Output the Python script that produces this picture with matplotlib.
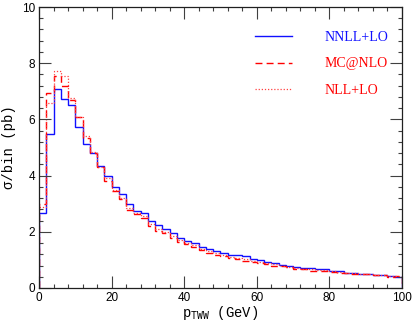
import numpy as np
import matplotlib
matplotlib.use("Agg")
import matplotlib.pyplot as plt
from matplotlib.ticker import MultipleLocator

bin_edges = np.arange(0, 102, 2)

nnll_lo = [2.67, 5.48, 7.07, 6.74, 6.51, 5.72, 5.11, 4.80, 4.35, 4.00,
           3.58, 3.33, 2.98, 2.74, 2.66, 2.38, 2.24, 2.09, 1.95, 1.79,
           1.66, 1.59, 1.45, 1.38, 1.30, 1.25, 1.18, 1.17, 1.14, 1.02,
           1.00, 0.94, 0.88, 0.82, 0.77, 0.74, 0.70, 0.70, 0.68, 0.67,
           0.61, 0.60, 0.55, 0.54, 0.49, 0.49, 0.48, 0.47, 0.44, 0.40]

mcatnlo = [3.00, 6.93, 7.54, 7.19, 6.69, 6.07, 5.33, 4.80, 4.30, 3.82,
           3.45, 3.17, 2.78, 2.62, 2.48, 2.21, 2.03, 1.95, 1.79, 1.63,
           1.57, 1.47, 1.36, 1.25, 1.19, 1.14, 1.06, 1.03, 0.96, 0.92,
           0.88, 0.84, 0.80, 0.77, 0.73, 0.69, 0.66, 0.62, 0.61, 0.61,
           0.58, 0.55, 0.53, 0.51, 0.50, 0.49, 0.47, 0.46, 0.39, 0.43]

nll_lo = [2.90, 6.60, 7.73, 7.54, 6.75, 6.10, 5.40, 4.85, 4.30, 3.90,
          3.50, 3.22, 2.85, 2.68, 2.55, 2.28, 2.10, 2.00, 1.85, 1.70,
          1.60, 1.52, 1.40, 1.32, 1.24, 1.18, 1.12, 1.08, 1.02, 0.96,
          0.93, 0.88, 0.84, 0.80, 0.76, 0.72, 0.69, 0.66, 0.64, 0.63,
          0.59, 0.57, 0.54, 0.52, 0.50, 0.49, 0.47, 0.46, 0.42, 0.41]

labels = ["NNLL+LO", "MC@NLO", "NLL+LO"]

fig = plt.figure(figsize=(4.14, 3.27), dpi=100)
ax = fig.add_axes([39/414, 1-288/327, (402-39)/414, (288-7)/327])

ax.stairs(nnll_lo, bin_edges, color="#1010ff", lw=1.0, label=labels[0])
ax.stairs(mcatnlo, bin_edges, color="#ff0000", lw=1.0, linestyle=(0, (5, 3)), label=labels[1])
ax.stairs(nll_lo, bin_edges, color="#ff4040", lw=0.9, linestyle=(0, (1, 1.5)), label=labels[2])

ax.set_xlim(0, 100)
ax.set_ylim(0, 10)
ax.xaxis.set_major_locator(MultipleLocator(20))
ax.xaxis.set_minor_locator(MultipleLocator(4))
ax.yaxis.set_major_locator(MultipleLocator(2))
ax.yaxis.set_minor_locator(MultipleLocator(0.4))
ax.tick_params(which="both", direction="in", top=True, right=True, color="#404040", width=0.8)
ax.tick_params(which="major", length=8.6, labelsize=8.5, pad=3)
ax.tick_params(which="minor", length=3.0)
for lab in ax.get_xticklabels() + ax.get_yticklabels():
    lab.set_family("Liberation Sans")
for s in ax.spines.values():
    s.set_linewidth(0.9)
    s.set_color("#202020")

ax.set_xlabel(r"p$_{\mathtt{TWW}}$ (GeV)", family="Liberation Mono", fontsize=10, labelpad=0)
ax.set_ylabel("σ/bin (pb)", family="Liberation Mono", fontsize=10, labelpad=4)

leg = ax.legend(loc="upper right", bbox_to_anchor=(0.996, 0.958), frameon=False,
                handlelength=2.7, handletextpad=2.3, labelspacing=0.95,
                prop={"family": "Liberation Serif", "size": 10})
for txt, c in zip(leg.get_texts(), ["#1010ff", "#ff0000", "#ff0000"]):
    txt.set_color(c)

fig.savefig("out.png", dpi=100)
